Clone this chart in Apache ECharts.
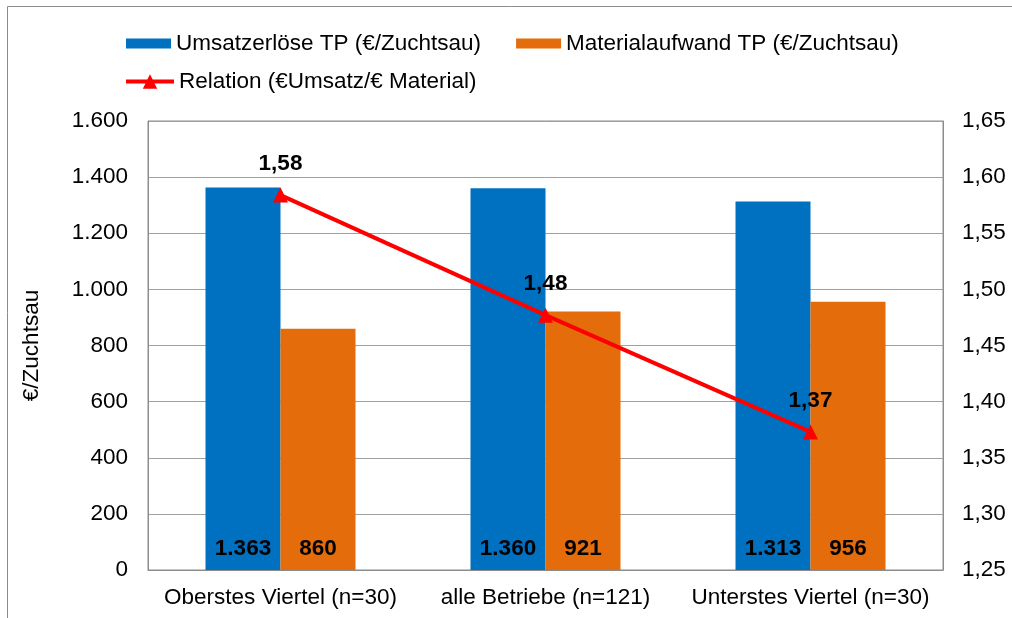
<!DOCTYPE html>
<html><head><meta charset="utf-8">
<script src="https://cdn.jsdelivr.net/npm/echarts@6/dist/echarts.min.js"></script>
<style>html,body{margin:0;padding:0;background:#fff}#c{width:1012px;height:618px}</style>
</head><body><div id="c"></div>
<script>
const categories = ['Oberstes Viertel (n=30)', 'alle Betriebe (n=121)', 'Unterstes Viertel (n=30)'];
const umsatz = [1363, 1360, 1313];
const material = [860, 921, 956];
const relation = [1.584, 1.477, 1.373];
const seriesNames = ['Umsatzerlöse TP (€/Zuchtsau)', 'Materialaufwand TP (€/Zuchtsau)', 'Relation (€Umsatz/€ Material)'];
const yAxisName = '€/Zuchtsau';

const FONT = '"Liberation Sans", Arial, sans-serif';
const FS = 22.5;
const fmtThousand = v => String(v).replace(/\B(?=(\d{3})+(?!\d))/g, '.');
const fmtComma = v => v.toFixed(2).replace('.', ',');

const chart = echarts.init(document.getElementById('c'));
chart.setOption({
  backgroundColor: '#fff',
  textStyle: { fontFamily: FONT, color: '#000' },
  graphic: [{
    type: 'rect', shape: { x: 7.5, y: 6.5, width: 1100, height: 700 },
    style: { fill: 'none', stroke: '#8c8c8c', lineWidth: 1 }, silent: true, z: -1
  }],
  legend: [{
    data: [{ name: seriesNames[0], icon: 'rect' }, { name: seriesNames[1], icon: 'rect' }],
    left: 126, top: 32, padding: 0,
    itemWidth: 45, itemHeight: 10, itemGap: 35,
    textStyle: { fontSize: FS, fontFamily: FONT, color: '#000' }
  }, {
    data: [seriesNames[2]], left: 124, top: 70, padding: 0,
    itemWidth: 48, itemHeight: 18, itemGap: 10,
    lineStyle: { width: 4 },
    textStyle: { fontSize: FS, fontFamily: FONT, color: '#000' }
  }],
  grid: { left: 148, right: 69, top: 121, bottom: 48, show: true, borderColor: '#8c8c8c', borderWidth: 1 },
  xAxis: {
    type: 'category', data: categories,
    axisLine: { lineStyle: { color: '#8c8c8c' } }, axisTick: { show: false },
    axisLabel: { fontSize: FS, color: '#000', margin: 16, interval: 0, fontFamily: FONT }
  },
  yAxis: [{
    type: 'value', min: 0, max: 1600, interval: 200,
    name: yAxisName, nameLocation: 'middle', nameGap: 105,
    nameTextStyle: { fontSize: FS, color: '#000', fontFamily: FONT },
    axisLine: { show: true, lineStyle: { color: '#8c8c8c' } }, axisTick: { show: false },
    axisLabel: { fontSize: FS, color: '#000', margin: 20, formatter: fmtThousand, fontFamily: FONT },
    splitLine: { lineStyle: { color: '#a0a0a0', width: 1 } }
  }, {
    type: 'value', min: 1.25, max: 1.65, interval: 0.05, position: 'right',
    axisLine: { show: true, lineStyle: { color: '#8c8c8c' } }, axisTick: { show: false },
    axisLabel: { fontSize: FS, color: '#000', margin: 19, formatter: fmtComma, fontFamily: FONT },
    splitLine: { show: false }
  }],
  series: [{
    name: seriesNames[0], type: 'bar', data: umsatz, barWidth: 75, barGap: '0%',
    itemStyle: { color: '#0070C0' },
    label: { show: true, position: 'insideBottom', distance: 10, fontSize: FS, fontWeight: 'bold', color: '#000', formatter: p => fmtThousand(p.value), fontFamily: FONT }
  }, {
    name: seriesNames[1], type: 'bar', data: material, barWidth: 75,
    itemStyle: { color: '#E46C0A' },
    label: { show: true, position: 'insideBottom', distance: 10, fontSize: FS, fontWeight: 'bold', color: '#000', formatter: p => fmtThousand(p.value), fontFamily: FONT }
  }, {
    name: seriesNames[2], type: 'line', yAxisIndex: 1, data: relation,
    symbol: 'triangle', symbolSize: 15,
    lineStyle: { color: '#FF0000', width: 4 }, itemStyle: { color: '#FF0000' },
    label: { show: true, position: 'top', distance: 12, fontSize: FS, fontWeight: 'bold', color: '#000', formatter: p => fmtComma(p.value), fontFamily: FONT },
    z: 5
  }]
});
</script></body></html>
